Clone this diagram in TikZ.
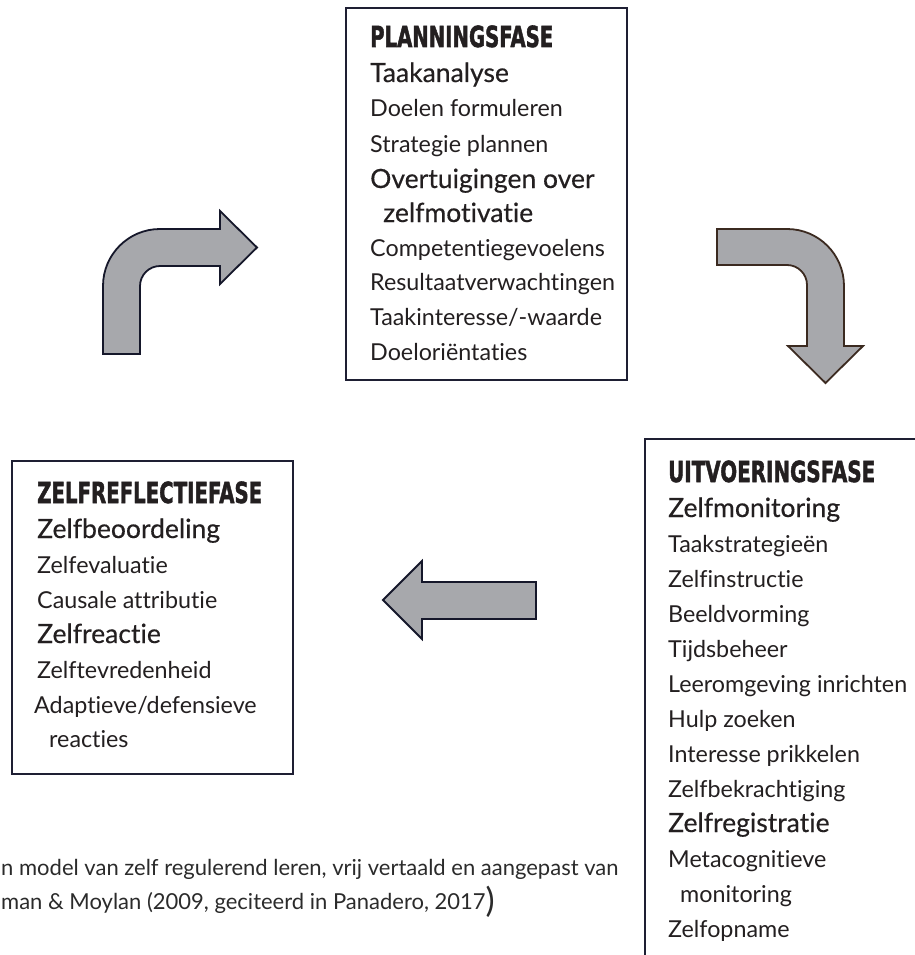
\documentclass[tikz,border=0pt]{standalone}
\usepackage{fontspec}
\setmainfont{Lato}[Ligatures={NoCommon,NoContextual}]
\newfontfamily\ttlfont{DejaVu Sans}[FakeBold=2]
\newfontfamily\captfont{Lato}[Ligatures={NoCommon,NoContextual}]
\newfontfamily\hdfont{Lato}[Ligatures={NoCommon,NoContextual},FakeBold=0.4]
\definecolor{txt}{HTML}{231F20}
\definecolor{capcol}{HTML}{2B2B2B}
\definecolor{boxcol}{HTML}{1E1F33}
\definecolor{arrowfill}{HTML}{A7A8AC}
\definecolor{arrowdark}{HTML}{15172A}
\definecolor{arrowbrown}{HTML}{3B2A20}
\newcommand{\phasetitle}[2]{\resizebox{#1pt}{21.5pt}{\ttlfont\bfseries #2}}
\tikzset{
  box/.style={draw=boxcol, line width=1.8pt, inner sep=0pt, outer sep=0pt},
  ttl/.style={anchor=base west, inner sep=0pt, text=txt},
  hd/.style={anchor=base west, inner sep=0pt, text=txt, font=\hdfont\fontsize{26.5}{26.5}\selectfont},
  itm/.style={anchor=base west, inner sep=0pt, text=txt, font=\fontsize{23.3}{23.3}\selectfont},
  capt/.style={anchor=base west, inner sep=0pt, text=capcol, font=\captfont\fontsize{22}{22}\selectfont},
  blockarrow/.style={fill=arrowfill, line width=1.8pt, line join=miter},
}
\begin{document}
\begin{tikzpicture}[x=1pt,y=-1pt]
\useasboundingbox (0,0) rectangle (914,955);
\fill[white] (0,0) rectangle (914,955);

% boxes
\node[box, minimum width=281pt, minimum height=372pt, anchor=north west] (plan) at (346,8) {};
\node[box, minimum width=281pt, minimum height=313pt, anchor=north west] (refl) at (12,461) {};
\coordinate (uitTR) at (920,439);
\coordinate (uitTL) at (645,439);
\coordinate (uitBL) at (645,962);
\draw[draw=boxcol, line width=1.8pt] (uitTR) -- (uitTL) -- (uitBL);

% planning text
\node[ttl] (p0) at (370,47) {\phasetitle{183}{PLANNINGSFASE}};
\node[hd]  (p1) at (370,82) {Taakanalyse};
\node[itm] (p2) at (370,117) {Doelen formuleren};
\node[itm] (p3) at (370,152) {Strategie plannen};
\node[hd]  (p4) at (370,188) {Overtuigingen over};
\node[hd]  (p5) at (383,222) {zelfmotivatie};
\node[itm] (p6) at (370,256) {Competentiegevoelens};
\node[itm] (p7) at (370,290) {Resultaatverwachtingen};
\node[itm] (p8) at (370,325) {Taakinteresse/-waarde};
\node[itm] (p9) at (370,360) {Doeloriëntaties};

% uitvoering text
\node[ttl] (u0) at (668,482) {\phasetitle{207}{UITVOERINGSFASE}};
\node[hd]  (u1) at (668,517) {Zelfmonitoring};
\node[itm] (u2) at (668,552) {Taakstrategieën};
\node[itm] (u3) at (668,587) {Zelfinstructie};
\node[itm] (u4) at (668,622) {Beeldvorming};
\node[itm] (u5) at (668,657) {Tijdsbeheer};
\node[itm] (u6) at (668,692) {Leeromgeving inrichten};
\node[itm] (u7) at (668,727) {Hulp zoeken};
\node[itm] (u8) at (668,762) {Interesse prikkelen};
\node[itm] (u9) at (668,797) {Zelfbekrachtiging};
\node[hd]  (u10) at (668,832) {Zelfregistratie};
\node[itm] (u11) at (668,867) {Metacognitieve};
\node[itm] (u12) at (680,902) {monitoring};
\node[itm] (u13) at (668,937) {Zelfopname};

% zelfreflectie text
\node[ttl] (z0) at (37,503) {\phasetitle{225}{ZELFREFLECTIEFASE}};
\node[hd]  (z1) at (37,538) {Zelfbeoordeling};
\node[itm] (z2) at (37,573) {Zelfevaluatie};
\node[itm] (z3) at (37,608) {Causale attributie};
\node[hd]  (z4) at (37,643) {Zelfreactie};
\node[itm] (z5) at (37,678) {Zelftevredenheid};
\node[itm] (z6) at (34,713) {Adaptieve/defensieve};
\node[itm] (z7) at (49,747) {reacties};

% caption
\node[capt] (c1) at (1,875) {n model van zelf regulerend leren, vrij vertaald en aangepast van};
\node[capt] (c2) at (1,909) {man \& Moylan (2009, geciteerd in Panadero, 2017{\fontsize{34}{34}\selectfont\raisebox{-3pt}{)}}};

% arrows
\draw[blockarrow, draw=arrowdark] (103,354) -- (103,286)
  .. controls (103,254.5) and (128.5,229) .. (160,229)
  -- (220,229) -- (220,211) -- (257,247.5) -- (220,284) -- (220,266) -- (160,266)
  .. controls (149,266) and (140,275) .. (140,286) -- (140,354) -- cycle;
\draw[blockarrow, draw=arrowbrown] (717,229) -- (787,229)
  .. controls (818.5,229) and (844,254.5) .. (844,286)
  -- (844,346) -- (863,346) -- (825.5,383) -- (788,346) -- (807,346) -- (807,285)
  .. controls (807,274) and (798,265) .. (787,265) -- (717,265) -- cycle;
\draw[blockarrow, draw=arrowdark] (383,600) -- (422,561) -- (422,582) -- (536,582)
  -- (536,619) -- (422,619) -- (422,639) -- cycle;
\end{tikzpicture}
\end{document}
